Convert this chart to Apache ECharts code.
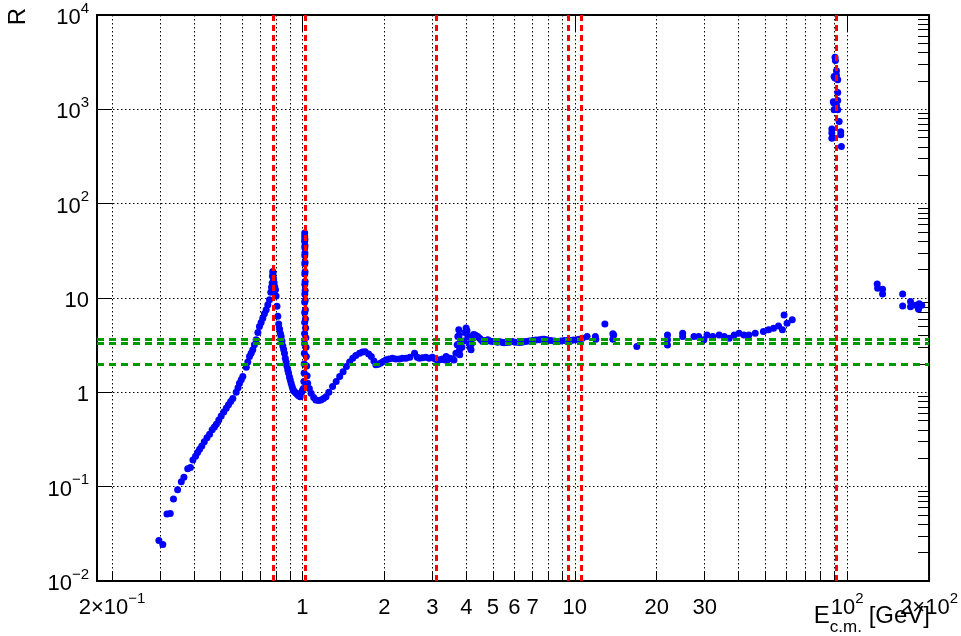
<!DOCTYPE html>
<html>
<head>
<meta charset="utf-8">
<script src="https://cdn.jsdelivr.net/npm/echarts@6/dist/echarts.min.js"></script>
<style>
html, body { margin: 0; padding: 0; background: #fff; }
#main { width: 961px; height: 636px; }
</style>
</head>
<body>
<div id="main"></div>
<script>
// R ratio vs E_cm, log-log
const myChart = echarts.init(document.getElementById('main'));

// low energy: pi pi threshold, rho/omega
const lowE = [0.297, 0.307, 0.318, 0.327, 0.336, 0.348, 0.359, 0.367, 0.379, 0.388,
    0.396, 0.405, 0.412, 0.419, 0.427, 0.436, 0.446, 0.456, 0.466, 0.475,
    0.483, 0.493, 0.503, 0.514, 0.525, 0.535, 0.545, 0.555, 0.571, 0.580,
    0.587, 0.596, 0.604, 0.622, 0.630, 0.639, 0.648, 0.657, 0.666, 0.676,
    0.686, 0.695, 0.705, 0.715, 0.725, 0.736, 0.746, 0.757, 0.765, 0.770,
    0.774, 0.776, 0.778, 0.780, 0.783, 0.787, 0.791, 0.796, 0.800, 0.806,
    0.812, 0.818, 0.824, 0.830, 0.835, 0.841, 0.847, 0.853, 0.859, 0.865,
    0.871, 0.877, 0.883, 0.889, 0.896, 0.902, 0.909, 0.916, 0.923, 0.930,
    0.940, 0.948, 0.958, 0.968, 0.981, 0.993, 1.000];
const lowR = [0.0268, 0.0244, 0.0512, 0.0519, 0.0738, 0.0925, 0.113, 0.126, 0.155, 0.160,
    0.192, 0.21, 0.23, 0.25, 0.27, 0.30, 0.33, 0.36, 0.40, 0.43,
    0.46, 0.51, 0.56, 0.62, 0.68, 0.74, 0.80, 0.86, 1.00, 1.12,
    1.25, 1.36, 1.47, 1.85, 2.10, 2.40, 2.60, 2.82, 3.20, 3.60,
    4.30, 5.00, 5.50, 6.10, 6.80, 7.50, 8.50, 9.60, 11.5, 13.0,
    14.4, 17.0, 19.1, 18.0, 16.0, 14.5, 13.2, 12.2, 10.5, 8.20,
    6.40, 5.30, 4.70, 4.20, 3.90, 3.50, 3.10, 2.85, 2.60, 2.30,
    2.10, 1.90, 1.73, 1.60, 1.45, 1.35, 1.25, 1.15, 1.08, 1.03,
    1.00, 0.98, 0.95, 0.92, 0.90, 1.00, 1.05];

// phi peak
const phiE = [1.008, 1.012, 1.014, 1.015, 1.016, 1.017, 1.018, 1.019, 1.019, 1.019,
    1.020, 1.020, 1.020, 1.020, 1.020, 1.020, 1.019, 1.019, 1.019, 1.021,
    1.021, 1.021, 1.022, 1.022, 1.023, 1.023, 1.024, 1.025, 1.026, 1.027,
    1.029, 1.031, 1.033, 1.036, 1.040, 1.045];
const phiR = [1.10, 1.30, 1.60, 2.00, 2.60, 3.30, 4.20, 5.50, 7.00, 9.00,
    11.0, 14.0, 18.0, 23.0, 28.0, 34.0, 40.0, 45.0, 49.0, 42.0,
    36.0, 30.0, 24.0, 19.0, 15.0, 12.0, 9.50, 7.50, 6.00, 4.80,
    3.80, 3.00, 2.40, 1.90, 1.50, 1.25];

// 1 - 3.6 GeV continuum
const midE = [1.060, 1.076, 1.100, 1.120, 1.145, 1.170, 1.195, 1.220, 1.250, 1.290,
    1.330, 1.370, 1.410, 1.450, 1.490, 1.530, 1.570, 1.620, 1.660, 1.700,
    1.750, 1.790, 1.830, 1.860, 1.900, 1.940, 1.980, 2.030, 2.080, 2.140,
    2.200, 2.270, 2.330, 2.400, 2.480, 2.580, 2.640, 2.690, 2.760, 2.840,
    2.920, 3.000, 3.070, 3.130, 3.200, 3.270, 3.340, 3.370, 3.410, 3.480,
    3.550, 3.600];
const midR = [1.10, 0.98, 0.88, 0.83, 0.82, 0.83, 0.86, 0.90, 1.00, 1.15,
    1.30, 1.47, 1.65, 1.88, 2.10, 2.30, 2.45, 2.60, 2.68, 2.70,
    2.55, 2.40, 2.15, 1.96, 1.98, 2.04, 2.12, 2.21, 2.25, 2.30,
    2.25, 2.25, 2.30, 2.30, 2.35, 2.60, 2.35, 2.30, 2.32, 2.36,
    2.30, 2.36, 2.25, 2.20, 2.22, 2.25, 2.20, 2.40, 2.21, 2.30,
    2.25, 2.20];

// charm threshold up to 63 GeV
const highE = [3.66, 3.70, 3.72, 3.75, 3.76, 3.77, 3.77, 3.78, 3.85, 3.90,
    3.95, 3.99, 4.02, 4.05, 4.09, 4.13, 4.16, 4.18, 4.20, 4.25,
    4.30, 4.33, 4.40, 4.47, 4.53, 4.59, 4.65, 4.72, 4.79, 4.88,
    4.99, 5.10, 5.20, 5.28, 5.40, 5.50, 5.60, 5.75, 5.90, 6.05,
    6.25, 6.40, 6.60, 6.80, 7.00, 7.20, 7.41, 7.60, 7.73, 7.90,
    8.16, 8.40, 8.63, 8.90, 9.15, 9.40, 9.67, 9.90, 10.2, 10.4,
    10.67, 11.1, 11.9, 11.95, 12.9, 13.8, 13.8, 13.9, 16.9, 21.9,
    21.9, 21.9, 24.9, 24.9, 27.4, 28.5, 29.8, 30.6, 32.1, 33.9,
    35.4, 36.9, 38.5, 40.1, 41.8, 43.6, 46.0, 49.3, 51.5, 53.7,
    56.0, 57.9, 58.7, 60.2, 62.9];
const highR = [2.60, 3.20, 3.90, 4.60, 4.00, 3.30, 2.80, 2.50, 3.00, 3.50,
    4.30, 4.80, 4.50, 3.90, 3.30, 3.00, 2.82, 3.30, 3.90, 4.10,
    4.06, 4.00, 3.90, 3.75, 3.60, 3.45, 3.50, 3.55, 3.60, 3.50,
    3.45, 3.45, 3.40, 3.45, 3.40, 3.35, 3.37, 3.40, 3.45, 3.40,
    3.37, 3.40, 3.45, 3.50, 3.54, 3.58, 3.60, 3.65, 3.66, 3.60,
    3.54, 3.50, 3.45, 3.50, 3.54, 3.55, 3.54, 3.58, 3.60, 3.65,
    3.75, 3.90, 3.90, 3.66, 5.30, 4.17, 3.66, 4.06, 3.06, 4.06,
    3.60, 3.18, 4.24, 3.90, 3.90, 3.90, 3.60, 4.06, 3.90, 4.06,
    3.90, 3.75, 4.06, 4.24, 4.06, 4.06, 4.24, 4.42, 4.60, 4.79,
    5.06, 4.60, 6.60, 5.40, 5.87];

// Z pole
const zE = [90.3, 90.6, 91.4, 91.4, 89.6, 90.3, 92.4, 92.4, 89.0, 89.6,
    92.4, 91.4, 89.6, 92.4, 93.5, 87.9, 87.9, 87.9, 94.8, 94.8, 95.3];
const zR = [3575, 3300, 2570, 2300, 2230, 2150, 2055, 1508, 1200, 1163,
    1240, 1100, 988, 988, 743, 620, 560, 495, 580, 537, 403];

// above the Z
const lepE = [129, 129.5, 135, 135, 160, 160, 171, 171, 179, 184, 188, 183];
const lepR = [14.1, 12.7, 12.4, 11.0, 11.0, 8.25, 9.2, 8.1, 8.4, 8.7, 8.4, 7.6];

// resonance masses (red) and quark-parton levels (green)
const resonances = [0.775, 1.019, 3.097, 9.46, 10.58, 91.19];
const partonLevels = [2, 10 / 3, 11 / 3];

// axes
const xMin = 0.176, xMax = 200;
const yMin = 0.01, yMax = 10000;
const xTicks = [0.2, 0.3, 0.4, 0.5, 0.6, 0.7, 0.8, 0.9, 1, 2, 3, 4, 5, 6, 7, 8, 9,
    10, 20, 30, 40, 50, 60, 70, 80, 90, 100, 200];
const xMajor = [1, 10, 100];
const xLabels = [0.2, 1, 2, 3, 4, 5, 6, 7, 10, 20, 30, 100, 200];
const xLabelText = ['2×10^−1', '1', '2', '3', '4', '5', '6', '7', '10', '20', '30', '10^2', '2×10^2'];
const yDecades = [0.01, 0.1, 1, 10, 100, 1000, 10000];
const yLabelText = ['10^−2', '10^−1', '1', '10', '10^2', '10^3', '10^4'];

const yMinor = [];
yDecades.slice(0, -1).forEach(d => {
    for (let m = 2; m <= 9; m++) yMinor.push(m * d);
});

function zip(xs, ys) {
    return xs.map((x, i) => [x, ys[i]]);
}
const points = [].concat(
    zip(lowE, lowR), zip(phiE, phiR), zip(midE, midR),
    zip(highE, highR), zip(zE, zR), zip(lepE, lepR)
);

// "10^2" -> rich text with superscript
function toRich(t) {
    const i = t.indexOf('^');
    if (i < 0) return '{n|' + t + '}';
    return '{n|' + t.slice(0, i) + '}{s|' + t.slice(i + 1) + '}';
}
function lookup(v, values, texts) {
    for (let i = 0; i < values.length; i++) {
        if (Math.abs(Math.log10(v) - Math.log10(values[i])) < 1e-6) return toRich(texts[i]);
    }
    return '';
}

const labelRich = {
    n: { fontFamily: 'Liberation Sans', fontSize: 22, color: '#000', lineHeight: 28, verticalAlign: 'bottom' },
    s: { fontFamily: 'Liberation Sans', fontSize: 15, color: '#000', lineHeight: 15, verticalAlign: 'top' }
};

const dotted = { color: '#000', width: 1, type: [1.5, 2.5] };

const option = {
    animation: false,
    backgroundColor: '#fff',
    grid: {
        left: 97, right: 31, top: 15, bottom: 55,
        show: true, borderColor: '#000', borderWidth: 2, backgroundColor: 'transparent'
    },
    xAxis: [
        {
            type: 'log', logBase: 10, min: xMin, max: xMax,
            axisLine: { show: false },
            axisTick: { show: true, inside: true, length: 10, customValues: xTicks, lineStyle: { color: '#000', width: 1 } },
            splitLine: { show: true, lineStyle: dotted },
            minorTick: { show: false },
            axisLabel: {
                show: true, margin: 10, customValues: xLabels,
                formatter: v => lookup(v, xLabels, xLabelText),
                rich: labelRich
            }
        },
        {
            type: 'log', logBase: 10, min: xMin, max: xMax,
            axisLine: { show: false },
            axisTick: { show: true, inside: true, length: 16, customValues: xMajor, lineStyle: { color: '#000', width: 1 } },
            splitLine: { show: false },
            axisLabel: { show: false }
        }
    ],
    yAxis: [
        {
            type: 'log', logBase: 10, min: yMin, max: yMax,
            axisLine: { show: false },
            axisTick: { show: true, inside: true, length: 15, customValues: yDecades, lineStyle: { color: '#000', width: 1 } },
            splitLine: { show: true, lineStyle: dotted },
            axisLabel: {
                show: true, margin: 8, customValues: yDecades,
                formatter: v => lookup(v, yDecades, yLabelText),
                rich: labelRich
            }
        },
        {
            type: 'log', logBase: 10, min: yMin, max: yMax,
            axisLine: { show: false },
            axisTick: { show: true, inside: true, length: 11, customValues: yMinor, lineStyle: { color: '#000', width: 1 } },
            splitLine: { show: false },
            axisLabel: { show: false }
        }
    ],
    graphic: [
        {
            type: 'text', right: 31, top: 604,
            style: {
                text: '{a|E}{b|c.m.}{a| [GeV]}',
                rich: {
                    a: { fontFamily: 'Liberation Sans', fontSize: 24, color: '#000', lineHeight: 26, verticalAlign: 'top' },
                    b: { fontFamily: 'Liberation Sans', fontSize: 17, color: '#000', lineHeight: 17, verticalAlign: 'bottom', padding: [0, 0, -6, 0] }
                }
            }
        },
        {
            type: 'text', x: 18, y: 8, rotation: Math.PI / 2,
            style: {
                text: 'R', fontFamily: 'Liberation Sans', fontSize: 24, fill: '#000',
                align: 'right', verticalAlign: 'middle'
            }
        }
    ],
    series: [
        {
            type: 'scatter',
            xAxisIndex: 0, yAxisIndex: 0,
            data: points,
            symbol: 'circle',
            symbolSize: 7,
            itemStyle: { color: '#0000ff', opacity: 1 },
            silent: true,
            z: 2
        },
        {
            type: 'line',
            xAxisIndex: 0, yAxisIndex: 0,
            data: [],
            silent: true,
            z: 5,
            markLine: {
                silent: true,
                symbol: ['none', 'none'],
                label: { show: false },
                data: partonLevels.map(v => ({ yAxis: v, lineStyle: { color: '#009900', width: 3, type: [7, 5] } }))
                    .concat(resonances.map(v => ({ xAxis: v, lineStyle: { color: '#ff0000', width: 3, type: [6, 4] } })))
            }
        }
    ]
};

myChart.setOption(option);
</script>
</body>
</html>
